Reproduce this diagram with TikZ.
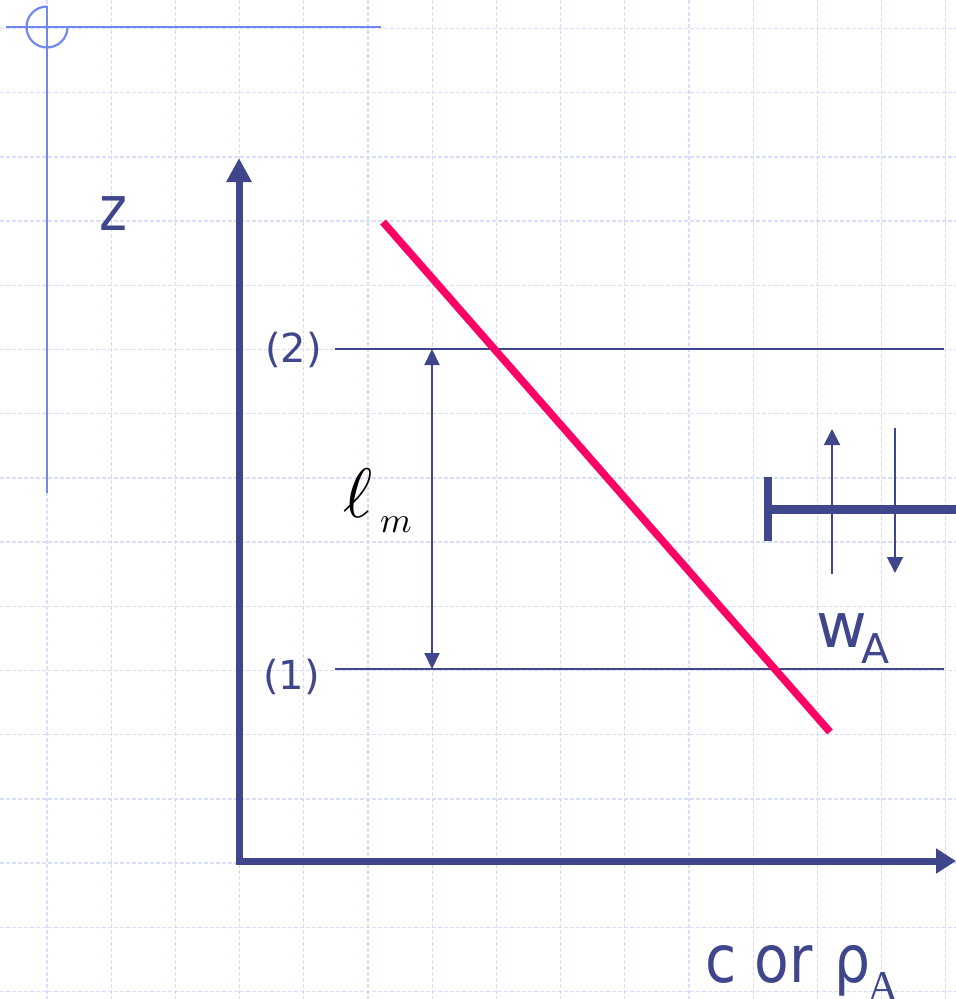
\documentclass[tikz,border=0pt]{standalone}
\usepackage{fontspec}
\usepackage{graphicx}
\newfontfamily\dv{DejaVu Sans}
\newfontfamily\dvc[FakeStretch=0.86]{DejaVu Sans}
\newfontfamily\tms{Liberation Serif}
\usetikzlibrary{arrows.meta}
\definecolor{ink}{RGB}{64,70,140}
\definecolor{cross}{RGB}{112,136,240}
\definecolor{gridc}{RGB}{216,221,250}
\definecolor{hot}{RGB}{255,0,102}
\tikzset{
  gridline/.style={draw=gridc, line width=1.3pt, dash pattern=on 4pt off 2pt},
  crossline/.style={draw=cross, line width=2.2pt},
  axisline/.style={draw=ink, line width=7pt, line join=miter,
    {Triangle[width=24pt,length=24pt]}-{Triangle[width=24pt,length=20pt]}},
  levelline/.style={draw=ink, line width=2pt},
  thinarrow/.style={draw=ink, line width=2pt, -{Triangle[width=16pt,length=16pt]}},
  dimarrow/.style={draw=ink, line width=2pt, {Triangle[width=15pt,length=16pt]}-{Triangle[width=15pt,length=16pt]}},
  barline/.style={draw=ink, line width=9pt},
  tick/.style={draw=ink, line width=8pt},
  lbl/.style={inner sep=0pt, text=ink},
  big/.style={lbl, font=\dv\fontsize{62}{70}\selectfont},
  mid/.style={lbl, font=\dv\fontsize{40}{45}\selectfont},
  sub/.style={lbl, font=\dv\fontsize{41}{46}\selectfont}
}
\begin{document}
\begin{tikzpicture}[x=1pt,y=-1pt]
\useasboundingbox (0,0) rectangle (956,999);
% background grid
\foreach \i in {0,...,14}
  \draw[gridline] ({47+64.2*\i},0) -- ({47+64.2*\i},999);
\foreach \j in {0,...,15}
  \draw[gridline] (0,{28.5+64.2*\j}) -- (956,{28.5+64.2*\j});
% crosshair
\coordinate (ch0) at (6,27);
\coordinate (ch1) at (381,27);
\coordinate (cv0) at (47,6);
\coordinate (cv1) at (47,493);
\draw[crossline] (ch0) -- (ch1);
\draw[crossline] (cv0) -- (cv1);
\draw[crossline] (47,6.5) arc[start angle=-90, end angle=-360, radius=20.5];
% axes
\coordinate (ytip) at (239,158);
\coordinate (orig) at (239,861);
\coordinate (xtip) at (956,861);
\draw[axisline] (ytip) -- (orig) -- (xtip);
% level lines
\coordinate (l2a) at (335,349);
\coordinate (l2b) at (944,349);
\coordinate (l1a) at (335,669);
\coordinate (l1b) at (944,669);
\draw[levelline] (l2a) -- (l2b);
\draw[levelline] (l1a) -- (l1b);
\coordinate (d2) at (432,349);
\coordinate (d1) at (432,669);
\draw[dimarrow] (d2) -- (d1);
% concentration profile
\coordinate (r0) at (383,222);
\coordinate (r1) at (830,732);
\draw[draw=hot, line width=7.5pt] (r0) -- (r1);
% flux bar
\coordinate (b0) at (768,509);
\coordinate (b1) at (960,509);
\draw[barline] (b0) -- (b1);
\coordinate (t0) at (768,477);
\coordinate (t1) at (768,541);
\draw[tick] (t0) -- (t1);
\coordinate (u0) at (960,477);
\coordinate (u1) at (960,541);
\draw[tick] (u0) -- (u1);
\coordinate (ua) at (832,574);
\coordinate (ub) at (832,429);
\draw[thinarrow] (ua) -- (ub);
\coordinate (da) at (895,428);
\coordinate (db) at (895,573);
\draw[thinarrow] (da) -- (db);
% labels
\node[lbl, font=\dvc\fontsize{62}{70}\selectfont, anchor=base west] (zlab) at (99,230) {z};
\node[mid, anchor=base east] (lab2) at (322,362) {(2)};
\node[mid, anchor=base east] (lab1) at (320,689) {(1)};
\node[inner sep=0pt, anchor=base west] (ell) at (343,517) {\scalebox{7}{$\ell$}};
\node[inner sep=0pt, anchor=base west] (msub) at (380,532) {\scalebox{3.6}{$m$}};
\node[big, anchor=base west] (wlab) at (816,647) {w};
\node[sub, anchor=base west] (wsub) at (861,663) {A};
\node[lbl, font=\dvc\fontsize{66}{74}\selectfont, anchor=base west] (cor) at (705,982) {c or};
\node[lbl, font=\dvc\fontsize{66}{74}\selectfont, anchor=base west] (rho) at (834,982) {ρ};
\node[lbl, font=\tms\fontsize{44}{50}\selectfont, anchor=base west] (rhosub) at (867,1001) {A};
\end{tikzpicture}
\end{document}
